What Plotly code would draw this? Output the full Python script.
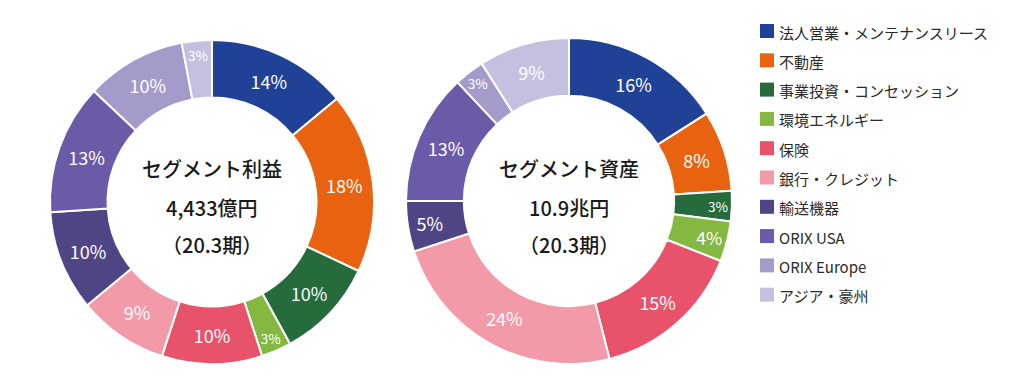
import plotly.graph_objects as go

categories = ["法人営業・メンテナンスリース", "不動産", "事業投資・コンセッション", "環境エネルギー",
              "保険", "銀行・クレジット", "輸送機器", "ORIX USA", "ORIX Europe", "アジア・豪州"]
profit_share = [14, 18, 10, 3, 10, 9, 10, 13, 10, 3]
asset_share = [16, 8, 3, 4, 15, 24, 5, 13, 3, 9]
colors = ["#1f4196", "#e9620f", "#256b3b", "#84b840", "#e8536b",
          "#f29aa7", "#4f4584", "#6b5aa8", "#a59bcb", "#c6c0e0"]
profit_center = ["セグメント利益", "4,433億円", "（20.3期）"]
asset_center = ["セグメント資産", "10.9兆円", "（20.3期）"]

FONT = "Noto Sans CJK JP"
W, H = 1024, 390
OFF = 8  # page body margin


def px(x):
    return (x - OFF) / W


def py(y):
    return 1 - (y - OFF) / H


fig = go.Figure()


def add_pie(values, x0, x1, y0, y1):
    fig.add_trace(go.Pie(
        labels=categories, values=values, hole=0.645, sort=False,
        direction="clockwise", rotation=0,
        marker=dict(colors=colors, line=dict(color="white", width=2)),
        texttemplate="%{value}%", textposition="inside",
        insidetextorientation="horizontal",
        insidetextfont=dict(family=FONT, size=18, color="white"),
        domain=dict(x=[px(x0), px(x1)], y=[py(y1), py(y0)]),
        showlegend=False, hoverinfo="label+value",
    ))


add_pie(profit_share, 50, 374, 40, 364)
add_pie(asset_share, 406, 732, 38, 364)

annotations = []
for cx, lines in [(212, profit_center), (569, asset_center)]:
    for y, txt in zip([168, 207, 245], lines):
        annotations.append(dict(x=px(cx), y=py(y), xref="paper", yref="paper",
                                text=txt, showarrow=False, xanchor="center", yanchor="middle",
                                font=dict(family=FONT, size=20, color="#1a1a1a", weight=500)))

shapes = []
for i, (cat, col) in enumerate(zip(categories, colors)):
    yc = 31 + i * 29.3
    shapes.append(dict(type="rect", xref="paper", yref="paper",
                       x0=px(760), x1=px(774), y0=py(yc + 7), y1=py(yc - 7),
                       fillcolor=col, line=dict(width=0)))
    annotations.append(dict(x=px(777), y=py(yc + 1), xref="paper", yref="paper",
                            text=cat, showarrow=False, xanchor="left", yanchor="middle",
                            font=dict(family=FONT, size=15, color="#2a2a2a")))

fig.update_layout(width=W, height=H, margin=dict(l=0, r=0, t=0, b=0),
                  paper_bgcolor="white", plot_bgcolor="white",
                  annotations=annotations, shapes=shapes,
                  font=dict(family=FONT))

fig.write_html("out.html")
